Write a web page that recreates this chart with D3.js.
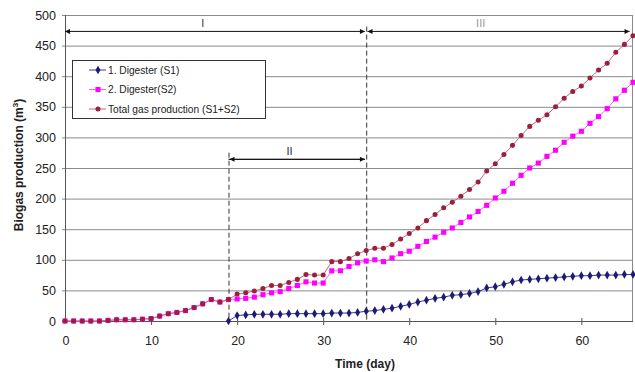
<!DOCTYPE html>
<html lang="en">
<head>
<meta charset="UTF-8">
<script src="https://d3js.org/d3.v7.min.js"></script>
<title>Biogas production</title>
<style>
    body { margin: 0; background: #fff; }
    svg text { font-family: Arial, "Liberation Sans", sans-serif; fill: #222; }
    .grid line { stroke: #8a8a8a; stroke-width: 1; }
    .axis-title { font-weight: bold; font-size: 12px; }
    .tick-label { font-size: 12.5px; }
    .legend text { font-size: 10.2px; }
</style>
</head>
<body>
<div id="chart"></div>
<script>
// days (x values)
var days = [0, 1, 2, 3, 4, 5, 6, 7, 8, 9, 10, 11, 12, 13, 14, 15, 16, 17, 18, 19, 20,
    21, 22, 23, 24, 25, 26, 27, 28, 29, 30, 31, 32, 33, 34, 35, 36, 37, 38, 39, 40,
    41, 42, 43, 44, 45, 46, 47, 48, 49, 50, 51, 52, 53, 54, 55, 56, 57, 58, 59, 60,
    61, 62, 63, 64, 65, 66];

// 1. Digester (S1) - starts on day 19
var s1 = [null, null, null, null, null, null, null, null, null, null, null, null, null,
    null, null, null, null, null, null,
    0, 9, 10, 11, 11, 11, 11, 12, 12, 12, 12, 12, 13, 13, 13, 14, 16, 17, 19, 21, 24,
    27, 31, 34, 37, 39, 42, 43, 45, 48, 54, 56, 60, 64, 67, 68, 69, 70, 71, 72, 73,
    74, 74, 75, 75, 75, 76, 76];

// 2. Digester (S2)
var s2 = [0, 0, 0, 0, 0, 1, 2, 2, 2, 3, 4, 8, 12, 14, 17, 22, 28, 35, 31, 35, 36,
    37, 39, 43, 46, 48, 53, 58, 64, 62, 62, 82, 82, 89, 95, 98, 100, 97, 103, 110, 114,
    122, 130, 137, 145, 152, 161, 170, 179, 189, 201, 212, 225, 238, 250, 258, 269, 279, 292, 302, 310,
    323, 334, 347, 363, 377, 390];

// Total gas production (S1+S2)
var total = [0, 0, 0, 0, 0, 1, 2, 2, 2, 3, 4, 8, 12, 14, 17, 22, 28, 35, 31, 35, 44,
    46, 49, 53, 58, 58, 63, 68, 76, 75, 75, 97, 97, 102, 110, 115, 119, 119, 125, 134, 143,
    152, 164, 174, 185, 194, 204, 215, 227, 245, 257, 272, 287, 303, 318, 328, 337, 350, 364, 375, 384,
    397, 410, 421, 439, 452, 466];

var seriesNames = ["1. Digester (S1)", "2. Digester(S2)", "Total gas production (S1+S2)"];

var xTicks = [0, 10, 20, 30, 40, 50, 60];
var yTicks = [0, 50, 100, 150, 200, 250, 300, 350, 400, 450, 500];

// phase annotations (days and levels)
var phaseNames = ["I", "II", "III"];
var phaseStart = [0, 19, 35.15];
var phaseEnd = [34.85, 34.85, 65.6];
var phaseLevel = [474, 265, 474];
var phaseLabelDay = [16, 26.1, 48.3];
var boundaryDays = [19, 35];
var boundaryTop = [275, 481];

var width = 635, height = 372;
var margin = { top: 15, right: 2, bottom: 51, left: 65 };

var svg = d3.select("#chart").append("svg")
    .attr("width", width)
    .attr("height", height);

var x = d3.scaleLinear().domain([0, 66]).range([margin.left, width - margin.right]);
var y = d3.scaleLinear().domain([0, 500]).range([height - margin.bottom, margin.top]);

// arrow markers
var defs = svg.append("defs");
defs.append("marker")
    .attr("id", "arrow")
    .attr("viewBox", "0 0 10 10")
    .attr("refX", 10).attr("refY", 5)
    .attr("markerWidth", 9).attr("markerHeight", 5)
    .attr("markerUnits", "userSpaceOnUse")
    .attr("orient", "auto-start-reverse")
    .append("path")
    .attr("d", "M0,0 L10,5 L0,10 z")
    .attr("fill", "#111");

// horizontal gridlines (with small outward ticks)
svg.append("g").attr("class", "grid")
    .selectAll("line").data(yTicks).enter().append("line")
    .attr("x1", x(0) - 3).attr("x2", x(66))
    .attr("y1", function (d) { return y(d) + 0.5; })
    .attr("y2", function (d) { return y(d) + 0.5; });

// right border
svg.append("line")
    .attr("x1", x(66) - 0.5).attr("x2", x(66) - 0.5)
    .attr("y1", y(500)).attr("y2", y(0))
    .attr("stroke", "#8a8a8a");

// left axis line
svg.append("line")
    .attr("x1", x(0) + 0.5).attr("x2", x(0) + 0.5)
    .attr("y1", y(500)).attr("y2", y(0))
    .attr("stroke", "#555");

// bottom axis line
svg.append("line")
    .attr("x1", x(0)).attr("x2", x(66))
    .attr("y1", y(0) + 0.5).attr("y2", y(0) + 0.5)
    .attr("stroke", "#555");

// x ticks (cross the axis)
svg.append("g").selectAll("line").data(xTicks.slice(1)).enter().append("line")
    .attr("x1", function (d) { return x(d) + 0.5; })
    .attr("x2", function (d) { return x(d) + 0.5; })
    .attr("y1", y(0) - 3).attr("y2", y(0) + 4)
    .attr("stroke", "#555");

// tick labels
svg.append("g").selectAll("text").data(yTicks).enter().append("text")
    .attr("class", "tick-label")
    .attr("x", x(0) - 9)
    .attr("y", function (d) { return y(d) + 4.5; })
    .attr("text-anchor", "end")
    .text(function (d) { return d; });

svg.append("g").selectAll("text").data(xTicks).enter().append("text")
    .attr("class", "tick-label")
    .attr("x", function (d) { return x(d) + 1; })
    .attr("y", y(0) + 24)
    .attr("text-anchor", "middle")
    .text(function (d) { return d; });

// axis titles
svg.append("text").attr("class", "axis-title")
    .attr("x", 365).attr("y", 368)
    .attr("text-anchor", "middle")
    .text("Time (day)");

var yTitle = svg.append("text").attr("class", "axis-title")
    .attr("transform", "translate(23,165) rotate(-90)")
    .attr("text-anchor", "middle");
yTitle.append("tspan").text("Biogas production (m");
yTitle.append("tspan").attr("dy", -5).style("font-size", "8px").text("3");
yTitle.append("tspan").attr("dy", 5).text(")");

// phase boundaries (dashed)
svg.append("g").selectAll("line").data(boundaryDays).enter().append("line")
    .attr("x1", function (d) { return x(d) + 0.5; })
    .attr("x2", function (d) { return x(d) + 0.5; })
    .attr("y1", function (d, i) { return y(boundaryTop[i]); })
    .attr("y2", y(0))
    .attr("stroke", "#333")
    .attr("stroke-dasharray", "5,3");

// phase arrows, heads on both ends
var phase = svg.append("g").selectAll("g").data(phaseNames).enter().append("g");
phase.append("line")
    .attr("x1", function (d, i) { return x(phaseStart[i]); })
    .attr("x2", function (d, i) { return x(phaseEnd[i]); })
    .attr("y1", function (d, i) { return y(phaseLevel[i]) + 0.5; })
    .attr("y2", function (d, i) { return y(phaseLevel[i]) + 0.5; })
    .attr("stroke", "#111")
    .attr("marker-start", function (d, i) { return i === 1 ? null : "url(#arrow)"; })
    .attr("marker-end", "url(#arrow)");
phase.append("text")
    .attr("x", function (d, i) { return x(phaseLabelDay[i]); })
    .attr("y", function (d, i) { return y(phaseLevel[i]) - 4; })
    .attr("text-anchor", "middle")
    .style("font-size", "11px")
    .style("fill", function (d, i) { return i === 2 ? "#999" : "#333"; })
    .text(function (d) { return d; });

// phase II left head sits just right of the dashed line
svg.append("line")
    .attr("x1", x(phaseEnd[1])).attr("x2", x(phaseStart[1]) + 1)
    .attr("y1", y(phaseLevel[1]) + 0.5).attr("y2", y(phaseLevel[1]) + 0.5)
    .attr("stroke", "#111")
    .attr("marker-end", "url(#arrow)");

// series
var series = [
    { name: seriesNames[0], values: s1, color: "#1c1c78", line: "#3a3a8c", shape: d3.symbolDiamond, size: 22 },
    { name: seriesNames[1], values: s2, color: "#ff00ff", line: "#ff5cff", shape: d3.symbolSquare, size: 26 },
    { name: seriesNames[2], values: total, color: "#9b1f3f", line: "#c06a80", shape: d3.symbolCircle, size: 20 }
];

var line = d3.line()
    .defined(function (d) { return d[1] !== null; })
    .x(function (d) { return x(d[0]); })
    .y(function (d) { return y(d[1]); });

series.forEach(function (s) {
    var pts = days.map(function (d, i) { return [d, s.values[i]]; });
    var g = svg.append("g");
    g.append("path")
        .datum(pts)
        .attr("fill", "none")
        .attr("stroke", s.line)
        .attr("stroke-width", 1)
        .attr("d", line);
    g.selectAll("path.pt").data(pts.filter(function (p) { return p[1] !== null; }))
        .enter().append("path")
        .attr("class", "pt")
        .attr("transform", function (p) { return "translate(" + x(p[0]) + "," + y(p[1]) + ")"; })
        .attr("d", d3.symbol().type(s.shape).size(s.size))
        .attr("fill", s.color);
});

// legend
var legend = svg.append("g").attr("class", "legend");
legend.append("rect")
    .attr("x", 72.5).attr("y", 60.5)
    .attr("width", 193).attr("height", 58)
    .attr("fill", "#fff")
    .attr("stroke", "#333");

var item = legend.selectAll("g.item").data(series).enter().append("g")
    .attr("class", "item")
    .attr("transform", function (d, i) { return "translate(0," + (70 + i * 19.5) + ")"; });
item.append("line")
    .attr("x1", 89).attr("x2", 106)
    .attr("stroke", function (d) { return d.line; });
item.append("path")
    .attr("transform", "translate(98,0)")
    .attr("d", function (d) { return d3.symbol().type(d.shape).size(d.size)(); })
    .attr("fill", function (d) { return d.color; });
item.append("text")
    .attr("x", 108).attr("y", 3.5)
    .text(function (d) { return d.name; });
</script>
</body>
</html>
